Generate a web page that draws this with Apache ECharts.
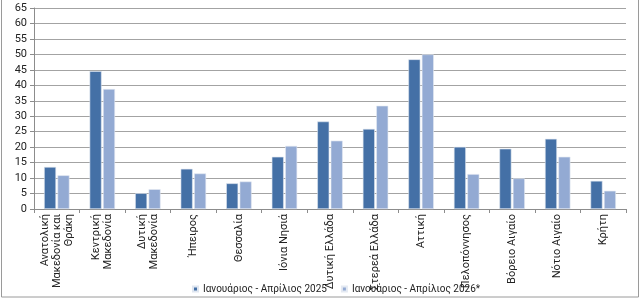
<!DOCTYPE html>
<html>
<head>
<meta charset="utf-8">
<script src="https://cdn.jsdelivr.net/npm/echarts@6/dist/echarts.min.js"></script>
<style>
  html, body { margin: 0; padding: 0; background: #fff; }
  #chart { width: 640px; height: 301px; }
</style>
</head>
<body>
<div id="chart"></div>
<script>
// περιφέρειες
var regions = [
    'Ανατολική\nΜακεδονία και\nΘράκη', 'Κεντρική\nΜακεδονία', 'Δυτική\nΜακεδονία', 'Ήπειρος',
    'Θεσσαλία', 'Ιόνια Νησιά', 'Δυτική Ελλάδα', 'Στερεά Ελλάδα', 'Αττική',
    'Πελοπόννησος', 'Βόρειο Αιγαίο', 'Νότιο Αιγαίο', 'Κρήτη'
];
var seriesNames = ['Ιανουάριος - Απρίλιος 2025', 'Ιανουάριος - Απρίλιος 2026*'];
var values2025 = [13.6, 44.6, 5.1, 13.0, 8.3, 16.9, 28.3, 25.9, 48.4, 20.1, 19.5, 22.7, 9.1];
var values2026 = [10.9, 38.8, 6.4, 11.5, 8.9, 20.4, 22.1, 33.4, 50.0, 11.3, 9.9, 16.9, 5.9];
var yMin = 0, yMax = 65, yStep = 5;

var font = 'Roboto';
var dom = document.getElementById('chart');
var myChart = echarts.init(dom, null, { renderer: 'canvas' });

var option = {
    animation: false,
    color: ['#4470a6', '#93aad3'],
    grid: { left: 34, right: 14, top: 8, bottom: 92 },
    legend: {
        data: seriesNames,
        left: 187,
        top: 279,
        icon: 'rect',
        itemWidth: 5,
        itemHeight: 5,
        itemGap: 14,
        textStyle: { fontFamily: font, fontSize: 10, color: '#222' }
    },
    xAxis: {
        type: 'category',
        data: regions,
        axisLine: { lineStyle: { color: '#8c8c8c' } },
        axisTick: { show: true, length: 4, lineStyle: { color: '#8c8c8c' } },
        axisLabel: {
            interval: 0,
            rotate: 90,
            margin: 5,
            fontFamily: font,
            fontSize: 11,
            lineHeight: 12,
            color: '#222'
        }
    },
    yAxis: {
        type: 'value',
        min: yMin,
        max: yMax,
        interval: yStep,
        axisLine: { show: true, lineStyle: { color: '#8c8c8c' } },
        axisTick: { show: true, length: 4, lineStyle: { color: '#8c8c8c' } },
        axisLabel: { fontFamily: font, fontSize: 11, color: '#222', margin: 7 },
        splitLine: { lineStyle: { color: '#a3a3a3' } }
    },
    series: [
        {
            name: seriesNames[0],
            type: 'bar',
            data: values2025,
            barWidth: 12,
            barGap: '12%',
            itemStyle: { borderColor: '#dfe6f0', borderWidth: 0.6 }
        },
        {
            name: seriesNames[1],
            type: 'bar',
            data: values2026,
            barWidth: 12,
            barGap: '12%',
            itemStyle: { borderColor: '#e4e9f2', borderWidth: 0.6 }
        }
    ],
    graphic: [
        {
            type: 'rect',
            shape: { x: 1.5, y: -2, width: 637, height: 299 },
            style: { fill: 'none', stroke: '#9a9a9a', lineWidth: 1 },
            silent: true
        }
    ]
};
myChart.setOption(option);
</script>
</body>
</html>
